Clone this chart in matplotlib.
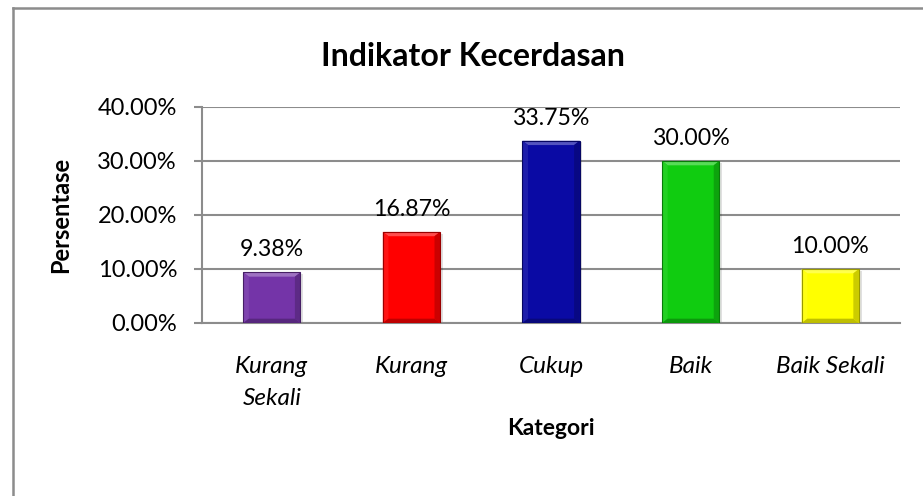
#!/usr/bin/env python3
# -*- coding: utf-8 -*-
"""
Indikator Kecerdasan - bar chart
"""

import matplotlib
matplotlib.use("Agg")
import matplotlib.pyplot as plt
from matplotlib.patches import Polygon, Rectangle
from matplotlib.lines import Line2D
import matplotlib.colors as mcolors

# data
kategori = ["Kurang\nSekali", "Kurang", "Cukup", "Baik", "Baik Sekali"]
persentase = [9.38, 16.87, 33.75, 30.00, 10.00]
warna = ["#7434a8", "#ff0000", "#0a0aa4", "#10cc10", "#ffff00"]
y_ticks = [0, 10, 20, 30, 40]

plt.rcParams['font.family'] = ['Lato', 'DejaVu Sans']


def shade(c, f):
    r, g, b = mcolors.to_rgb(c)
    if f >= 0:
        return (r + (1 - r) * f, g + (1 - g) * f, b + (1 - b) * f)
    return (r * (1 + f), g * (1 + f), b * (1 + f))


fig = plt.figure(figsize=(9.23, 4.96), dpi=100)
ax = fig.add_axes([0.2189, 0.3488, 0.7563, 0.4355])

x = list(range(len(kategori)))
lebar = 0.41
bars = ax.bar(x, persentase, width=lebar, color=warna, edgecolor="none", zorder=3)

# efek bevel sederhana
bx, by = 0.04, 0.8
for rect, c in zip(bars, warna):
    x0 = rect.get_x()
    x1 = x0 + rect.get_width()
    h = rect.get_height()
    # bayangan tipis di kanan
    ax.add_patch(Rectangle((x1, 0), 0.02, h - 0.3, color="#000000", alpha=0.12,
                           lw=0, zorder=2))
    top = [(x0, h), (x1, h), (x1 - bx, h - by), (x0 + bx, h - by)]
    bot = [(x0, 0), (x1, 0), (x1 - bx, by), (x0 + bx, by)]
    left = [(x0, 0), (x0, h), (x0 + bx, h - by), (x0 + bx, by)]
    right = [(x1, 0), (x1, h), (x1 - bx, h - by), (x1 - bx, by)]
    ax.add_patch(Polygon(top, closed=True, color=shade(c, 0.3), lw=0, zorder=4))
    ax.add_patch(Polygon(left, closed=True, color=shade(c, 0.08), lw=0, zorder=4))
    ax.add_patch(Polygon(right, closed=True, color=shade(c, -0.2), lw=0, zorder=4))
    ax.add_patch(Polygon(bot, closed=True, color=shade(c, -0.25), lw=0, zorder=4))
    ax.add_patch(Rectangle((x0, 0), x1 - x0, h, fill=False,
                           ec=shade(c, -0.4), lw=0.8, zorder=5))
    ax.text(rect.get_x() + rect.get_width() / 2, h + 2.2, f"{h:.2f}%",
            ha="center", va="bottom", fontsize=16.7, color="#000000", zorder=6)

ax.set_xlim(-0.5, len(kategori) - 0.5)
ax.set_ylim(0, 40)
ax.set_yticks(y_ticks)
ax.set_yticklabels([f"{v:.2f}%" for v in y_ticks], fontsize=17)
ax.set_xticks(x)
ax.set_xticklabels(kategori, fontsize=17.5, style="italic", linespacing=1.6)
ax.tick_params(axis="x", length=0, pad=24)
ax.tick_params(axis="y", length=6, width=1.5, color="#8c8c8c", pad=12, direction="out")

ax.grid(axis="y", color="#8c8c8c", lw=1.5, zorder=0)
for s in ["top", "right"]:
    ax.spines[s].set_visible(False)
for s in ["left", "bottom"]:
    ax.spines[s].set_color("#8c8c8c")
    ax.spines[s].set_linewidth(1.5)

ax.set_ylabel("Persentase", fontsize=17, fontweight="bold", labelpad=18)
ax.set_xlabel("Kategori", fontsize=16.5, fontweight="bold", labelpad=7)

fig.text(0.512, 0.886, "Indikator Kecerdasan", ha="center", va="center",
         fontsize=23, fontweight="bold")

# bingkai luar (kiri dan atas saja yang terlihat)
fig.add_artist(Line2D([12.5 / 923, 12.5 / 923], [0, 1 - 8 / 496], transform=fig.transFigure,
                      color="#8c8c8c", lw=1.8))
fig.add_artist(Line2D([12.5 / 923, 1], [1 - 8 / 496, 1 - 8 / 496], transform=fig.transFigure,
                      color="#8c8c8c", lw=1.8))

fig.savefig("out.png", dpi=100)
